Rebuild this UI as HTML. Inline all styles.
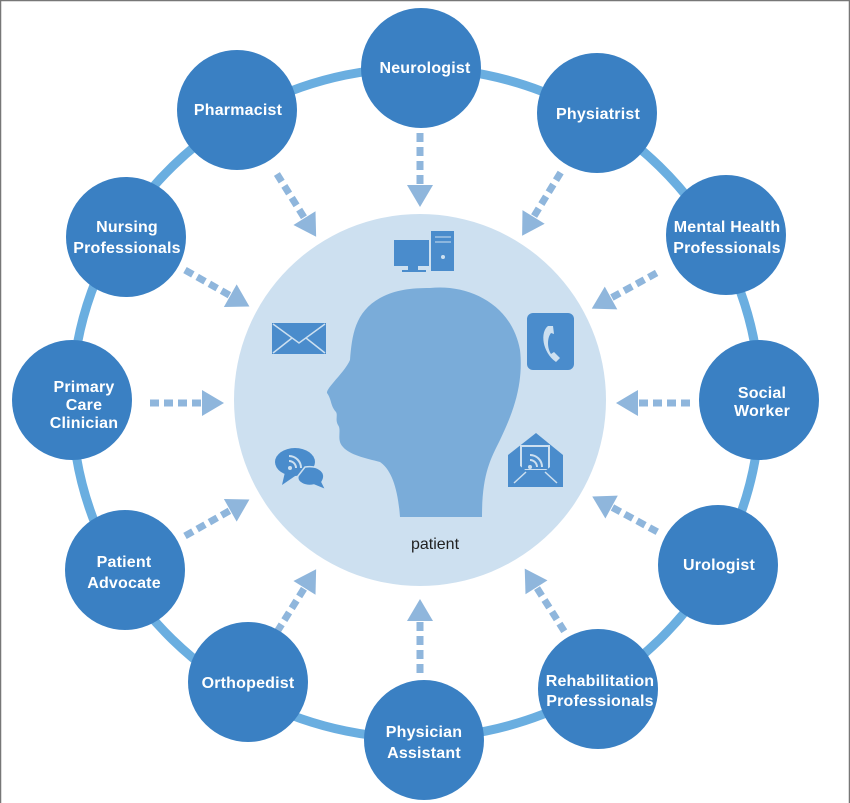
<!DOCTYPE html>
<html><head><meta charset="utf-8"><style>
html,body{margin:0;padding:0;background:#fff;}
svg{display:block;}
.t{font-family:"Liberation Sans",sans-serif;font-weight:bold;font-size:16px;fill:#fff;text-anchor:middle;letter-spacing:0.2px;}
</style></head><body>
<svg width="850" height="803" viewBox="0 0 850 803" xmlns="http://www.w3.org/2000/svg">
<rect x="0" y="0" width="850" height="803" fill="#fff"/>
<path d="M0.5 803 V0.5 H849.5 V803" fill="none" stroke="#777" stroke-width="1.5"/>
<ellipse cx="416" cy="403" rx="344" ry="335" fill="none" stroke="#6aaee0" stroke-width="9"/>
<circle cx="420" cy="400" r="186" fill="#cde0f0"/>
<defs>
<g id="arr">
<line x1="270" y1="0" x2="214" y2="0" stroke="#8fb6dc" stroke-width="7" stroke-dasharray="9,5"/>
<polygon points="196,0 218,-13 218,13" fill="#8fb6dc"/>
</g>
</defs>
<g transform="translate(420,403)">
<use href="#arr" transform="rotate(-90)"/>
<use href="#arr" transform="rotate(-122)"/>
<use href="#arr" transform="rotate(-58.6)"/>
<use href="#arr" transform="rotate(-150.5)"/>
<use href="#arr" transform="rotate(-28.8)"/>
<use href="#arr" transform="rotate(180)"/>
<use href="#arr" transform="rotate(0)"/>
<use href="#arr" transform="rotate(150.5)"/>
<use href="#arr" transform="rotate(28.5)"/>
<use href="#arr" transform="rotate(122)"/>
<use href="#arr" transform="rotate(57.7)"/>
<use href="#arr" transform="rotate(90)"/>
</g>
<!-- head -->
<path d="M430 288 C470 284 512 305 520 350 C524 385 512 415 500 440 C490 460 482 475 482 517 L400 517 C398 490 392 470 380 462 C365 458 350 455 343 447 C336 440 342 430 338 425 C335 420 338 415 336 412 C330 405 332 400 327 393 C326 388 345 372 350 360 C352 335 355 312 380 298 C395 290 410 288 430 288 Z" fill="#7aacd9"/>
<!-- computer -->
<rect x="394" y="240" width="40" height="26" fill="#4a8ccc"/>
<rect x="408" y="266" width="10" height="4" fill="#4a8ccc"/>
<rect x="402" y="270" width="24" height="2" fill="#4a8ccc"/>
<rect x="430" y="230" width="25" height="42" fill="#4a8ccc" stroke="#cde0f0" stroke-width="2"/>
<line x1="435" y1="237" x2="451" y2="237" stroke="#cde0f0" stroke-width="1"/>
<line x1="435" y1="242" x2="451" y2="242" stroke="#cde0f0" stroke-width="1"/>
<circle cx="443" cy="257" r="2" fill="#cde0f0"/>
<!-- envelope -->
<rect x="272" y="323" width="54" height="31" fill="#4a8ccc"/>
<polyline points="273,324 299,343 325,324" fill="none" stroke="#cde0f0" stroke-width="1.5"/>
<line x1="273" y1="353" x2="292" y2="338" stroke="#cde0f0" stroke-width="1.5"/>
<line x1="325" y1="353" x2="306" y2="338" stroke="#cde0f0" stroke-width="1.5"/>
<!-- phone -->
<rect x="527" y="313" width="47" height="57" rx="6" fill="#4a8ccc"/>
<path d="M548 326 C540 332 542 352 556 362 L560 358 L554 352 L551 354 C547 348 547 338 551 333 L554 334 L553 326 Z" fill="#cde0f0"/>
<!-- chat bubbles -->
<ellipse cx="295" cy="462" rx="20" ry="14" fill="#4a8ccc"/>
<polygon points="285,472 282,485 298,474" fill="#4a8ccc"/>
<path d="M305 467 C318 465 328 472 322 482 L326 490 L314 485 C305 487 296 482 298 476 Z" fill="#4a8ccc" stroke="#cde0f0" stroke-width="1.5"/>
<circle cx="290" cy="468" r="2" fill="#cde0f0"/>
<path d="M289 461 A7 7 0 0 1 296 468 M289 456 A12 12 0 0 1 301 468" fill="none" stroke="#cde0f0" stroke-width="2"/>
<!-- open envelope -->
<polygon points="508,455 536,433 563,455 563,487 508,487" fill="#4a8ccc"/>
<rect x="520" y="445" width="30" height="25" fill="#cde0f0"/>
<rect x="522" y="447" width="26" height="22" fill="#4a8ccc"/>
<polygon points="508,457 536,478 563,457 563,487 508,487" fill="#4a8ccc"/>
<line x1="514" y1="483" x2="526" y2="472" stroke="#cde0f0" stroke-width="1.5"/>
<line x1="557" y1="483" x2="545" y2="472" stroke="#cde0f0" stroke-width="1.5"/>
<circle cx="530" cy="467" r="2" fill="#cde0f0"/>
<path d="M530 460 A7 7 0 0 1 537 467 M530 455 A12 12 0 0 1 542 467" fill="none" stroke="#cde0f0" stroke-width="2"/>
<text x="435" y="549" font-family="Liberation Sans,sans-serif" font-size="16" fill="#222" text-anchor="middle">patient</text>
<!-- nodes -->
<g fill="#3a80c3">
<circle cx="421" cy="68" r="60"/>
<circle cx="237" cy="110" r="60"/>
<circle cx="597" cy="113" r="60"/>
<circle cx="126" cy="237" r="60"/>
<circle cx="726" cy="235" r="60"/>
<circle cx="72" cy="400" r="60"/>
<circle cx="759" cy="400" r="60"/>
<circle cx="125" cy="570" r="60"/>
<circle cx="718" cy="565" r="60"/>
<circle cx="248" cy="682" r="60"/>
<circle cx="598" cy="689" r="60"/>
<circle cx="424" cy="740" r="60"/>
</g>
<text class="t" x="425" y="73">Neurologist</text>
<text class="t" x="238" y="115">Pharmacist</text>
<text class="t" x="598" y="119">Physiatrist</text>
<text class="t" x="127" y="232">Nursing</text>
<text class="t" x="127" y="253">Professionals</text>
<text class="t" x="727" y="232">Mental Health</text>
<text class="t" x="727" y="253">Professionals</text>
<text class="t" x="84" y="392">Primary</text>
<text class="t" x="84" y="410">Care</text>
<text class="t" x="84" y="428">Clinician</text>
<text class="t" x="762" y="398">Social</text>
<text class="t" x="762" y="416">Worker</text>
<text class="t" x="124" y="567">Patient</text>
<text class="t" x="124" y="588">Advocate</text>
<text class="t" x="719" y="570">Urologist</text>
<text class="t" x="248" y="688">Orthopedist</text>
<text class="t" x="600" y="686">Rehabilitation</text>
<text class="t" x="600" y="706">Professionals</text>
<text class="t" x="424" y="737">Physician</text>
<text class="t" x="424" y="758">Assistant</text>
</svg>
</body></html>
